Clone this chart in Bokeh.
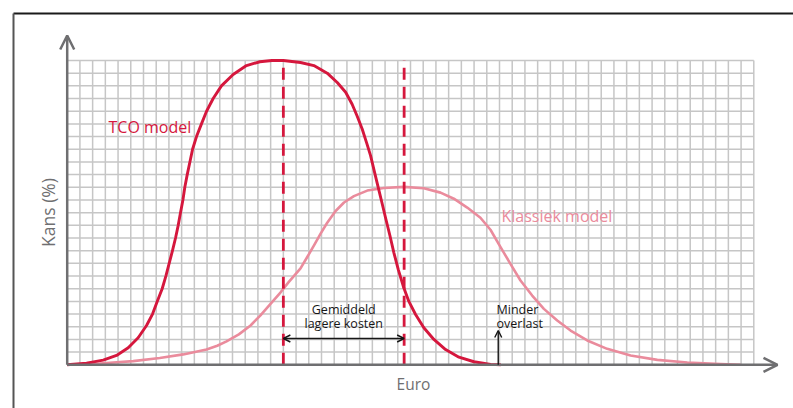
import math
from bokeh.plotting import figure
from bokeh.models import Arrow, OpenHead, Label, Range1d
from bokeh.embed import file_html
from bokeh.resources import INLINE

# ---------------- data (grid units) ----------------
tco_x = [0, 1.52, 2.83, 3.88, 4.8, 5.58, 6.24, 6.71, 7.08, 7.47, 7.76, 8.02, 8.28,
         8.52, 8.73, 8.91, 9.1, 9.25, 9.44, 9.65, 9.86, 10.17, 10.56, 10.96, 11.48,
         12.13, 13.05, 14.1, 15.15, 16.1, 17.0, 18.35, 19.4, 20.45, 21.24, 21.9,
         22.41, 22.81, 23.2, 23.55, 23.86, 24.17, 24.46, 24.75, 25.06, 25.38, 25.69,
         26.04, 26.43, 26.87, 27.4, 28.05, 28.84, 29.76, 30.81, 31.99, 33.3, 34.1]
tco_y = [0, 0.13, 0.37, 0.74, 1.34, 2.13, 3.1, 4.0, 5.0, 6.0, 7.0, 8.0, 9.0,
         10.0, 11.0, 12.0, 13.0, 14.0, 15.0, 16.0, 17.0, 18.0, 19.0, 20.0, 21.0,
         22.0, 22.9, 23.6, 23.9, 24.0, 24.0, 23.84, 23.6, 23.0, 22.26, 21.5,
         20.55, 19.6, 18.6, 17.5, 16.5, 15.2, 14.0, 12.8, 11.5, 10.2, 8.85,
         7.5, 6.2, 5.0, 3.97, 2.92, 2.0, 1.2, 0.6, 0.24, 0.03, 0]

klassiek_x = [0, 2.57, 5.19, 7.28, 9.12, 10.96, 11.8, 12.53, 13.5, 14.42, 15.2, 15.99,
              16.77, 17.4, 18.35, 18.88, 19.4, 19.93, 20.45, 21.11, 21.77, 22.55, 23.6,
              24.91, 26.48, 28.05, 29.36, 30.41, 31.46, 32.5, 33.29, 34.07, 34.86, 35.65,
              36.57, 37.49, 38.54, 39.59, 40.9, 42.47, 44.31, 46.41, 48.77, 51.4, 52.97]
klassiek_y = [0, 0.1, 0.29, 0.53, 0.82, 1.2, 1.5, 1.85, 2.4, 3.1, 3.9, 4.8,
              5.7, 6.5, 7.6, 8.5, 9.4, 10.35, 11.2, 12.13, 12.8, 13.3, 13.74,
              13.95, 14.03, 13.92, 13.58, 13.1, 12.4, 11.6, 10.65, 9.3, 7.96, 6.65,
              5.46, 4.41, 3.49, 2.7, 1.92, 1.26, 0.73, 0.39, 0.18, 0.05, 0]

mean_x = [17.0, 26.5]          # dashed "average" lines
overlast_x = 33.9              # "Minder overlast" arrow position
grid_cols = 54
grid_rows = 24

series_names = ["TCO model", "Klassiek model"]
x_label = "Euro"
y_label = "Kans (%)"
note_costs = ["Gemiddeld", "lagere kosten"]
note_overlast = ["Minder", "overlast"]

# ---------------- layout ----------------
W, H = 793, 408
X0PX, X1PX = 66.7, 753.3
Y0PX, Y1PX = 364.3, 60.0
kx = (X1PX - X0PX) / grid_cols
ky = (Y0PX - Y1PX) / grid_rows
x_start = -X0PX / kx
x_end = x_start + W / kx
y_end = grid_rows + Y1PX / ky
y_start = y_end - H / ky


def dx(px):
    return x_start + px / kx


def dy(py):
    return y_end - py / ky


FONT = "Open Sans"
TCO_C = "#d5173d"
KL_C = "#ea8b9c"
AX_C = "#6f6f71"
GRID_C = "#c6c6c6"
TXT_C = "#161616"

p = figure(width=W, height=H, x_range=Range1d(x_start, x_end), y_range=Range1d(y_start, y_end),
           output_backend="svg", toolbar_location=None, x_axis_type=None, y_axis_type=None,
           min_border=0, min_border_left=0, min_border_right=0, min_border_top=0, min_border_bottom=0)
p.outline_line_color = None
p.background_fill_color = "white"
p.border_fill_color = "white"

# frame lines (top and left)
p.segment(x0=[dx(13)], y0=[dy(13)], x1=[dx(793)], y1=[dy(13)], line_color="#1a1a1a", line_width=2)
p.segment(x0=[dx(13)], y0=[dy(13)], x1=[dx(13)], y1=[dy(408)], line_color="#555555", line_width=2)

# grid
vx = [[i, i] for i in range(1, grid_cols + 1)]
vy = [[0, grid_rows] for _ in range(1, grid_cols + 1)]
hx = [[0, grid_cols] for _ in range(1, grid_rows + 1)]
hy = [[j, j] for j in range(1, grid_rows + 1)]
p.multi_line(vx, vy, line_color=GRID_C, line_width=1.5)
p.multi_line(hx, hy, line_color=GRID_C, line_width=1.5)

# curves
p.line(klassiek_x, klassiek_y, line_color=KL_C, line_width=2.6, line_join="round")
p.line(tco_x, tco_y, line_color=TCO_C, line_width=2.9, line_join="round")

# dashed mean lines
for mx in mean_x:
    p.line([mx, mx], [0, grid_rows], line_color=TCO_C, line_width=2.8, line_dash="12 7")

# axes with arrow heads
p.add_layout(Arrow(end=OpenHead(size=14, line_color=AX_C, line_width=2.5),
                   x_start=0, y_start=0, x_end=dx(777), y_end=0,
                   line_color=AX_C, line_width=2.5))
p.add_layout(Arrow(end=OpenHead(size=14, line_color=AX_C, line_width=2.5),
                   x_start=0, y_start=0, x_end=0, y_end=dy(35),
                   line_color=AX_C, line_width=2.5))

# annotation arrows
p.add_layout(Arrow(start=OpenHead(size=7, line_color=TXT_C, line_width=1.4),
                   end=OpenHead(size=7, line_color=TXT_C, line_width=1.4),
                   x_start=mean_x[0], y_start=dy(338), x_end=mean_x[1], y_end=dy(338),
                   line_color=TXT_C, line_width=1.4))
p.add_layout(Arrow(end=OpenHead(size=7, line_color=TXT_C, line_width=1.4),
                   x_start=overlast_x, y_start=0, x_end=overlast_x, y_end=dy(330),
                   line_color=TXT_C, line_width=1.4))


# texts
def label(x, y, text, color, size, align="left", angle=0.0):
    p.add_layout(Label(x=x, y=y, text=text, text_color=color, text_font=FONT,
                       text_font_size=size, text_align=align, text_baseline="middle",
                       angle=angle))


label(dx(108), dy(126), series_names[0], TCO_C, "16px")
label(dx(501), dy(215), series_names[1], KL_C, "16px")
mid = (mean_x[0] + mean_x[1]) / 2
label(mid, dy(309), note_costs[0], TXT_C, "12.5px", align="center")
label(mid, dy(323), note_costs[1], TXT_C, "12.5px", align="center")
label(dx(496), dy(309), note_overlast[0], TXT_C, "12.5px")
label(dx(496), dy(323), note_overlast[1], TXT_C, "12.5px")
label(dx(413), dy(383), x_label, AX_C, "15.5px", align="center")
label(dx(47), dy(212), y_label, AX_C, "17.5px", align="center", angle=math.pi / 2)

open("out.html", "w").write(file_html(p, INLINE))
